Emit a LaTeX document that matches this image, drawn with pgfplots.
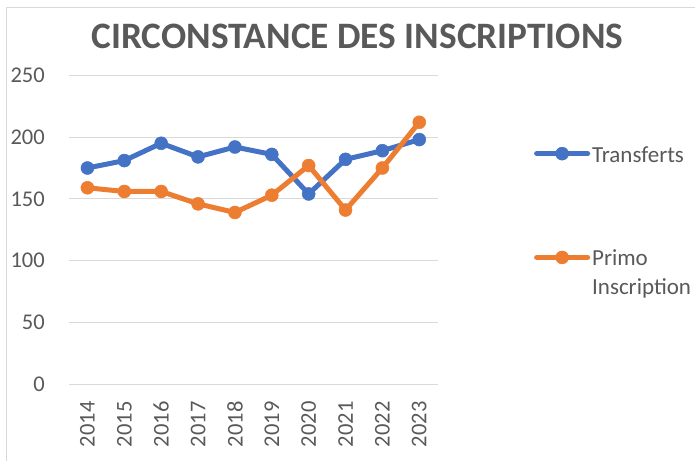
\documentclass[border=0pt]{standalone}
\usepackage{fontspec}
\setmainfont{Carlito}
\usepackage{pgfplots}
\pgfplotsset{compat=1.18}
\definecolor{tblue}{HTML}{4472C4}
\definecolor{torange}{HTML}{ED7D31}
\definecolor{txtgray}{HTML}{595959}
\definecolor{gridgray}{HTML}{D9D9D9}
\begin{document}
\begin{tikzpicture}
\useasboundingbox (0,0) rectangle (695pt,461pt);
\draw[gridgray, line width=1pt] (6.7pt,0) -- (6.7pt,453.7pt) -- (695pt,453.7pt);
\begin{axis}[
  at={(69pt,76.7pt)}, anchor=south west,
  scale only axis, width=368.7pt, height=309pt,
  xmin=-0.5, xmax=9.5, ymin=0, ymax=250,
  xtick={0,1,2,3,4,5,6,7,8,9},
  xticklabels={2014,2015,2016,2017,2018,2019,2020,2021,2022,2023},
  ytick={0,50,100,150,200,250},
  axis line style={draw=none},
  major tick length=0pt,
  ymajorgrids, major grid style={gridgray, line width=1pt},
  tick label style={font=\fontsize{22.5}{27}\selectfont, text=txtgray},
  /pgf/number format/assume math mode=true,
  yticklabel style={anchor=east, inner sep=0pt, xshift=-24pt},
  xticklabel style={yshift=-17pt, rotate=90, anchor=east, inner sep=0pt},
  title={CIRCONSTANCE DES INSCRIPTIONS},
  title style={at={(0.782,1.0657)}, anchor=base, font=\bfseries\fontsize{37.3}{44}\selectfont, text=txtgray},
  legend style={at={(1.261,0.771)}, anchor=north west, draw=none, fill=none,
    inner sep=0pt, row sep=82pt, column sep=2pt,
    font=\fontsize{23}{29}\selectfont, text=txtgray,
    nodes={inner sep=0pt}, cells={anchor=base west}},
  legend image code/.code={\draw[mark repeat=2, mark phase=2, #1] plot coordinates {(0pt,8.4pt) (25.5pt,8.4pt) (51pt,8.4pt)};},
]
\addplot[tblue, line width=5pt, line cap=round, line join=round, mark=*, mark size=6.5pt,
  mark options={solid, fill=tblue, draw=tblue, line width=0.5pt}]
  coordinates {(0,175) (1,181) (2,195) (3,184) (4,192) (5,186) (6,154) (7,182) (8,189) (9,198)};
\addlegendentry{Transferts}
\addplot[torange, line width=5pt, line cap=round, line join=round, mark=*, mark size=6.5pt,
  mark options={solid, fill=torange, draw=torange, line width=0.5pt}]
  coordinates {(0,159) (1,156) (2,156) (3,146) (4,139) (5,153) (6,177) (7,141) (8,175) (9,212)};
\addlegendentry{\begin{tabular}[t]{@{}l@{}}Primo\\Inscription\end{tabular}}
\end{axis}
\end{tikzpicture}
\end{document}
